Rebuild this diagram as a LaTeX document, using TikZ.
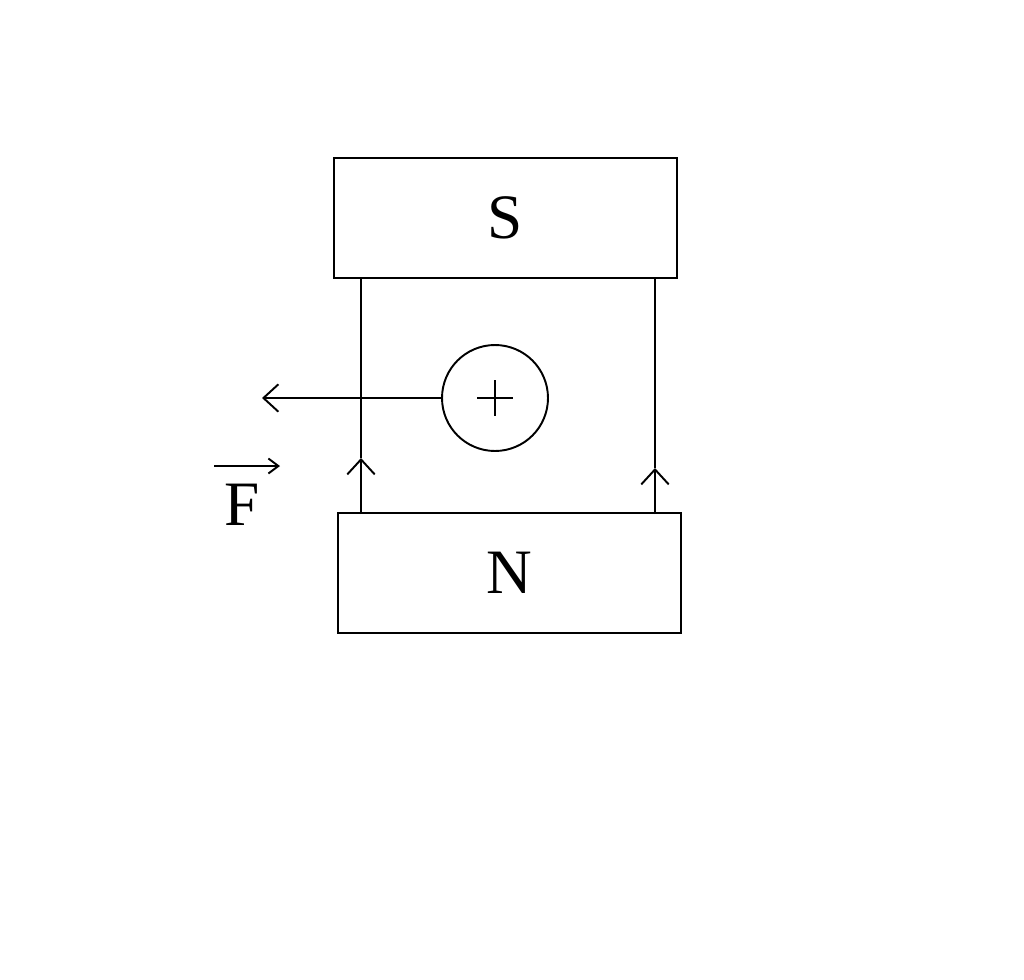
\documentclass[tikz,border=0pt]{standalone}
\usepackage{fontspec}
\setmainfont{Liberation Serif}
\usetikzlibrary{arrows.meta}

\begin{document}
\begin{tikzpicture}[x=0.02cm, y=-0.02cm, line width=1.1pt,
  pole/.style={draw, minimum width=6.86cm, minimum height=2.4cm, inner sep=0pt, font=\fontsize{36}{36}\selectfont},
  >={Straight Barb[length=0.3cm, width=0.55cm]}]
  \useasboundingbox (0,0) rectangle (1024,980);
  \node[pole] (s) at (505.5,218) {S};
  \node[pole] (n) at (509.5,573) {N};
  \node[draw, circle, minimum size=2.12cm, inner sep=0pt] (wire) at (495,398) {};
  \draw (wire.center) ++(-18,0) -- ++(36,0);
  \draw (wire.center) ++(0,-18) -- ++(0,36);

  % field lines
  \coordinate (l1) at (361,514);
  \coordinate (l2) at (655,514);
  \draw[->] (l1) -- (361,458);
  \draw (361,458) -- (361,278);
  \draw[->] (l2) -- (655,468);
  \draw (655,468) -- (655,278);

  % force
  \coordinate (fend) at (262,398);
  \draw[->] (wire.west) -- (fend);
  \node[font=\fontsize{36}{36}\selectfont, inner sep=0pt] (f) at (242,505) {F};
  \draw[->, >={Straight Barb[length=0.2cm, width=0.3cm]}] (214,466) -- (280,466);
\end{tikzpicture}
\end{document}
